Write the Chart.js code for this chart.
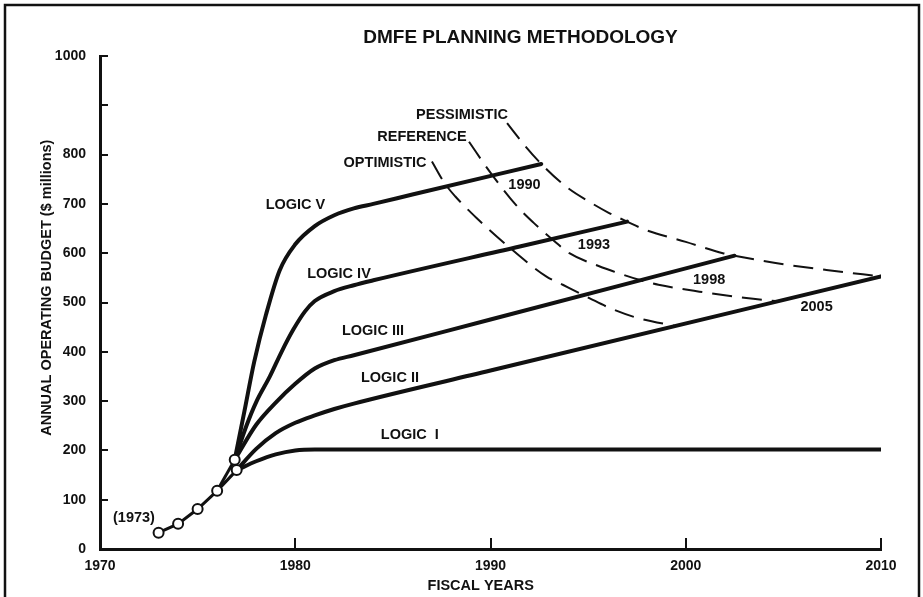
<!DOCTYPE html>
<html><head><meta charset="utf-8">
<script src="https://cdn.jsdelivr.net/npm/chart.js@4.4.1/dist/chart.umd.min.js"></script>
<style>html,body{margin:0;padding:0;background:#fff;}#wrap{width:923px;height:597px;position:relative;}</style>
</head><body><div id="wrap"><canvas id="c" width="923" height="597"></canvas></div>
<script>
// ---- data (fiscal year, $ millions) ----
const historyYears = [1973, 1974, 1975, 1976, 1977];
const historyValues = [33, 51, 81, 118, 160];
const branchYears = [1976, 1976.9];
const branchValues = [118, 181];

const logic1Years = [1977, 1978, 1979, 1980, 1981, 2010];
const logic1Values = [160, 178, 192, 200, 202, 202];
const logic2Years = [1977, 1978, 1979, 1980, 1981, 1982, 1983, 1990, 2010];
const logic2Values = [160, 203, 235, 256, 271, 284, 295, 362, 553];
const logic3Years = [1976.9, 1978, 1979, 1980, 1981, 1982, 1983, 1990, 2002.5];
const logic3Values = [181, 252, 297, 335, 366, 383, 393, 465.5, 595];
const logic4Years = [1976.9, 1977.5, 1978, 1978.7, 1979.3, 1979.9, 1980.5, 1981, 1982, 1983, 1984, 1991.5, 1997];
const logic4Values = [181, 250, 298, 350, 400, 445, 482, 503, 523, 535, 545, 613.6, 664];
const logic5Years = [1976.9, 1977.4, 1977.9, 1978.5, 1979.2, 1980, 1981, 1982, 1983, 1984, 1986, 1992.6];
const logic5Values = [181, 280, 380, 475, 565, 618, 655, 677, 691, 700, 719, 781];

const optimisticYears = [1987, 1987.65, 1988.2, 1989.3, 1990.9, 1992.85, 1993.7, 1995.06, 1996.1, 1997.5, 1999.5];
const optimisticValues = [786, 742, 715, 671, 614, 553, 536, 509, 489, 469, 452];
const referenceYears = [1988.9, 1989.95, 1991.3, 1992.2, 1993.2, 1994.04, 1995.6, 1996.3, 1997.7, 1998.6, 2000.7, 2003.1, 2004.6];
const referenceValues = [826, 766, 698, 662, 627, 600, 573, 563, 545, 536, 522, 509, 503];
const pessimisticYears = [1990.85, 1991.8, 1992.6, 1993.87, 1995.2, 1996.1, 1997, 1997.96, 2000, 2001.9, 2002.5, 2004.6, 2007.2, 2010];
const pessimisticValues = [864, 816, 781, 735, 701, 681, 664, 647, 623, 600, 595, 580, 566, 553];

const xTickValues = [1970, 1980, 1990, 2000, 2010];
const yTickValues = [0, 100, 200, 300, 400, 500, 600, 700, 800, 900, 1000];
const yTickLabels = ['0', '100', '200', '300', '400', '500', '600', '700', '800', '', '1000'];

// in-chart text labels (anchored in data coordinates)
const noteTexts = ['PESSIMISTIC', 'REFERENCE', 'OPTIMISTIC', 'LOGIC V', 'LOGIC IV', 'LOGIC III', 'LOGIC II', 'LOGIC  I', '(1973)', '1990', '1993', '1998', '2005'];
const noteYears = [1988.54, 1986.49, 1984.6, 1980.01, 1982.24, 1983.98, 1984.85, 1985.87, 1971.74, 1991.74, 1995.3, 2001.2, 2006.7];
const noteValues = [880, 836, 783, 698, 558, 442, 347, 231, 63, 738, 617, 546, 491];

// ---- chart ----
const FONT = "'Liberation Sans', Arial, Helvetica, sans-serif";
const INK = '#111';
const pts = (xs, ys) => xs.map((x, i) => ({x: x, y: ys[i]}));
const solid = (label, xs, ys) => ({label, data: pts(xs, ys), borderColor: INK, borderWidth: 4,
  pointRadius: 0, cubicInterpolationMode: 'monotone', fill: false, order: 2, borderCapStyle: 'round'});
const dashed = (label, xs, ys) => ({label, data: pts(xs, ys), borderColor: INK, borderWidth: 2,
  borderDash: [20, 10], pointRadius: 0, cubicInterpolationMode: 'monotone', fill: false, order: 3});

const chrome = {
  id: 'chrome',
  afterDraw(chart) {
    const ctx = chart.ctx, xs = chart.scales.x, ys = chart.scales.y;
    ctx.save();
    // frame of the scanned page
    ctx.strokeStyle = INK; ctx.lineWidth = 2.5;
    ctx.beginPath();
    ctx.moveTo(5, 597); ctx.lineTo(5, 5); ctx.lineTo(919, 5); ctx.lineTo(919, 597);
    ctx.stroke();
    ctx.fillStyle = INK;
    ctx.textAlign = 'center'; ctx.textBaseline = 'middle';
    ctx.font = 'bold 19px ' + FONT;
    ctx.fillText('DMFE PLANNING METHODOLOGY', (xs.left + xs.right) / 2 + 30, 38);
    ctx.font = 'bold 14.5px ' + FONT;
    ctx.fillText('FISCAL YEARS', xs.getPixelForValue(1989.5), 586);
    ctx.save();
    ctx.translate(47, ys.getPixelForValue(530));
    ctx.rotate(-Math.PI / 2);
    ctx.font = 'bold 14.5px ' + FONT;
    ctx.fillText('ANNUAL OPERATING BUDGET ($ millions)', 0, 0);
    ctx.restore();
    ctx.font = 'bold 14.5px ' + FONT;
    noteTexts.forEach((t, i) => {
      ctx.fillText(t, xs.getPixelForValue(noteYears[i]), ys.getPixelForValue(noteValues[i]));
    });
    ctx.restore();
  }
};

new Chart(document.getElementById('c'), {
  type: 'line',
  data: {
    datasets: [
      {label: 'History', data: pts(historyYears, historyValues), borderColor: INK, borderWidth: 3,
        pointRadius: 5, pointBackgroundColor: '#fff', pointBorderColor: INK, pointBorderWidth: 2, order: 0},
      {label: 'History branch', data: pts(branchYears, branchValues), borderColor: INK, borderWidth: 3,
        pointRadius: [0, 5], pointBackgroundColor: '#fff', pointBorderColor: INK, pointBorderWidth: 2, order: 0},
      solid('Logic I', logic1Years, logic1Values),
      solid('Logic II', logic2Years, logic2Values),
      solid('Logic III', logic3Years, logic3Values),
      solid('Logic IV', logic4Years, logic4Values),
      solid('Logic V', logic5Years, logic5Values),
      dashed('Optimistic', optimisticYears, optimisticValues),
      dashed('Reference', referenceYears, referenceValues),
      dashed('Pessimistic', pessimisticYears, pessimisticValues)
    ]
  },
  options: {
    responsive: false, animation: false, devicePixelRatio: 1,
    layout: {padding: {left: 0, right: 42, top: 56, bottom: 0}},
    plugins: {legend: {display: false}, tooltip: {enabled: false}, title: {display: false}},
    scales: {
      x: {
        type: 'linear', min: 1970, max: 2010,
        afterBuildTicks: s => { s.ticks = xTickValues.map(v => ({value: v})); },
        afterFit: s => { s.height = 48; },
        grid: {drawOnChartArea: false, drawTicks: true, tickLength: -11, color: INK, lineWidth: 2},
        border: {display: true, color: INK, width: 3},
        ticks: {color: INK, font: {family: FONT, size: 14, weight: 'bold'}, padding: 20, maxRotation: 0,
          autoSkip: false, callback: v => String(v)}
      },
      y: {
        type: 'linear', min: 0, max: 1000,
        afterBuildTicks: s => { s.ticks = yTickValues.map(v => ({value: v})); },
        afterFit: s => { s.width = 100; },
        grid: {drawOnChartArea: false, drawTicks: true, tickLength: -8, color: INK, lineWidth: 2},
        border: {display: true, color: INK, width: 3},
        ticks: {color: INK, font: {family: FONT, size: 14, weight: 'bold'}, padding: 22, autoSkip: false,
          callback: (v) => yTickLabels[yTickValues.indexOf(v)]}
      }
    }
  },
  plugins: [chrome]
});
</script></body></html>
